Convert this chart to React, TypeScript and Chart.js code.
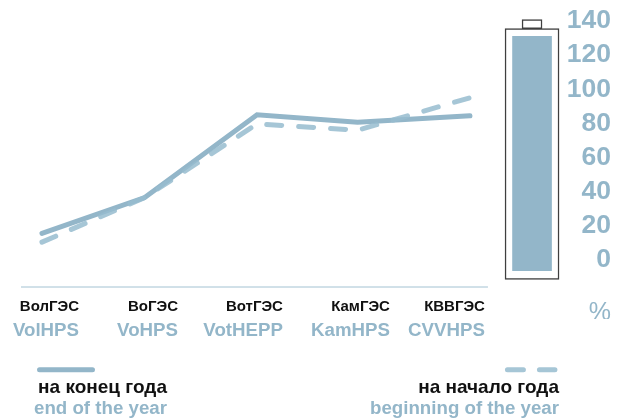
import React, { useEffect, useRef } from "react";
import { Chart, registerables } from "chart.js";

Chart.register(...registerables);

const stationX = [0, 0.96, 2.01, 2.95, 4];
const endOfYear = [15.6, 36.6, 85, 80.7, 84.4];
const beginningOfYear = [10.5, 36.6, 79.7, 76, 95];
const stationsRu = ["ВолГЭС", "ВоГЭС", "ВотГЭС", "КамГЭС", "КВВГЭС"];
const stationsEn = ["VolHPS", "VoHPS", "VotHEPP", "KamHPS", "CVVHPS"];
const labelX = [0.346, 1.271, 2.252, 3.252, 4.14];
const percentX = [5.318];
const percentLabel = ["%"];
const yTicks = [0, 20, 40, 60, 80, 100, 120, 140];
const batteryX = 4.58;
const batteryFill = [-6.2, 130.9];
const batteryBody = [-11.3, 135.5];
const batteryCap = [135.5, 140.8];
const baselineX = [-0.196, 4.168];
const baselineY = -15.75;
const legendRu = ["на конец года", "на начало года"];
const legendEn = ["end of the year", "beginning of the year"];
const legendTextX = [1.168, 4.832];
const legendKeyY = -64.2;
const legendSolidX = [-0.023, 0.472];
const legendDashX = [4.35, 4.794];

const BLUE = "#93b6c9";
const DASH = "rgba(150,188,207,0.85)";
const SANS = "'Liberation Sans', Arial, sans-serif";
const X_MIN = -0.196;
const X_MAX = 5.318;

const textAxis = (
  values: number[],
  labels: string[],
  font: any,
  color: any,
  padding: number,
  height: number
) => ({
  type: "linear",
  position: "bottom",
  offset: false,
  min: X_MIN,
  max: X_MAX,
  grid: { display: false, drawTicks: false, offset: false },
  border: { display: false },
  afterBuildTicks: (axis: any) => {
    axis.ticks = values.map((value) => ({ value }));
  },
  afterFit: (axis: any) => {
    axis.paddingLeft = 0;
    axis.paddingRight = 0;
    axis.height = height;
  },
  ticks: {
    autoSkip: false,
    maxRotation: 0,
    minRotation: 0,
    align: "end",
    padding,
    font,
    color,
    callback: (_v: any, i: number) => labels[i],
  },
});

export default function App() {
  const ref = useRef<HTMLCanvasElement | null>(null);
  useEffect(() => {
    const line = (label: string, xs: number[], ys: number[], color: string, dash: number[], order: number) => ({
      type: "line",
      label,
      data: xs.map((x, i) => ({ x, y: ys[i] })),
      borderColor: color,
      borderWidth: 5,
      borderDash: dash,
      borderCapStyle: "round",
      borderJoinStyle: "miter",
      pointRadius: 0,
      tension: 0,
      clip: false,
      order,
    });
    const bar = (label: string, range: number[], fill: string, thick: number, bw: number, order: number) => ({
      type: "bar",
      label,
      data: [{ x: batteryX, y: range }],
      backgroundColor: fill,
      borderColor: "#3f3f3f",
      borderWidth: bw,
      borderSkipped: false,
      barThickness: thick,
      grouped: false,
      order,
    });
    const chart = new Chart(ref.current as HTMLCanvasElement, {
      data: {
        datasets: [
          line("на начало года", stationX, beginningOfYear, DASH, [15, 17], 1),
          line("на конец года", stationX, endOfYear, BLUE, [], 2),
          bar("fill", batteryFill, BLUE, 39, 0, 3),
          bar("body", batteryBody, "#ffffff", 54, 1.5, 4),
          bar("cap", batteryCap, "#ffffff", 20, 1.5, 5),
          {
            type: "line",
            label: "axis",
            data: baselineX.map((x) => ({ x, y: baselineY })),
            borderColor: "#a3c2d2",
            borderWidth: 1,
            pointRadius: 0,
            clip: false,
            order: 6,
          },
          line("key end", legendSolidX, [legendKeyY, legendKeyY], BLUE, [], 7),
          line("key begin", legendDashX, [legendKeyY, legendKeyY], DASH, [16, 16], 8),
        ] as any,
      },
      options: {
        responsive: false,
        animation: false,
        layout: { padding: { left: 21, right: 12, top: 15, bottom: 0 } },
        plugins: { legend: { display: false }, tooltip: { enabled: false } },
        scales: {
          x: textAxis(
            [...labelX, ...percentX],
            [...stationsRu, ...percentLabel],
            (c: any) =>
              c.index === 5
                ? { family: SANS, size: 25, weight: "normal" }
                : { family: SANS, size: 15, weight: "bold" },
            (c: any) => (c.index === 5 ? BLUE : "#111111"),
            11,
            32
          ),
          xEn: textAxis(labelX, stationsEn, { family: SANS, size: 18.7, weight: "bold" }, BLUE, 1, 34),
          xLegRu: textAxis(legendTextX, legendRu, { family: SANS, size: 19, weight: "bold" }, "#111111", 23, 44),
          xLegEn: textAxis(legendTextX, legendEn, { family: SANS, size: 18.7, weight: "bold" }, BLUE, 1, 23),
          y: {
            type: "linear",
            position: "right",
            min: -15.75,
            max: 142.9,
            grid: { display: false, drawTicks: false },
            border: { display: false },
            afterBuildTicks: (axis: any) => {
              axis.ticks = yTicks.map((value) => ({ value }));
            },
            ticks: {
              autoSkip: false,
              mirror: true,
              padding: 0,
              color: BLUE,
              font: { family: SANS, size: 26.5, weight: "bold" },
              callback: (v: any) => String(v),
            },
          },
        } as any,
      },
    } as any);
    return () => chart.destroy();
  }, []);
  return (
    <canvas
      ref={ref}
      width={623}
      height={420}
      style={{ position: "absolute", left: 0, top: 0, display: "block" }}
    />
  );
}
